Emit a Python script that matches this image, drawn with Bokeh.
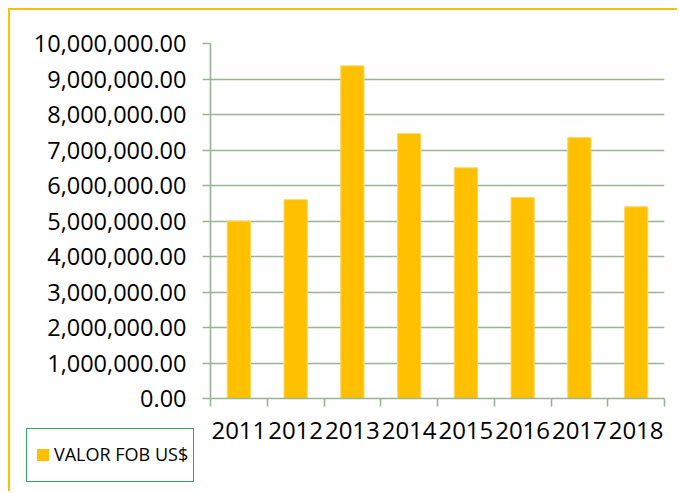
from bokeh.plotting import figure
from bokeh.layouts import column
from bokeh.models import (Range1d, FixedTicker, NumeralTickFormatter, Div,
                          ColumnDataSource)
from bokeh.embed import file_html
from bokeh.resources import INLINE

# ---- data ----
years = ["2011", "2012", "2013", "2014", "2015", "2016", "2017", "2018"]
valor_fob = [5.00e6, 5.60e6, 9.37e6, 7.46e6, 6.50e6, 5.66e6, 7.35e6, 5.40e6]
y_ticks = [0, 1e6, 2e6, 3e6, 4e6, 5e6, 6e6, 7e6, 8e6, 9e6, 10e6]
series_name = "VALOR FOB US$"

FONT = "Open Sans"
GRID = "#96B592"
GOLD = "#FFC000"
BAR_EDGE = "#FFD766"
LEGEND_BORDER = "#2EAA5C"

n = len(years)
centers = [i + 0.5 for i in range(n)]
boundaries = list(range(n + 1))
src = ColumnDataSource(dict(x=centers, top=valor_fob, year=years))

p = figure(width=669, height=483, output_backend="svg", toolbar_location=None,
           x_range=Range1d(0, n), y_range=Range1d(y_ticks[0], y_ticks[-1]),
           min_border_left=200, min_border_right=15, min_border_top=33,
           min_border_bottom=95)
p.styles = {"border-left": "2px solid " + GOLD, "border-top": "2px solid " + GOLD,
            "margin-left": "8px", "margin-top": "8px"}
p.outline_line_color = None
p.background_fill_color = "white"
p.border_fill_color = "white"

r = p.vbar(x="x", top="top", bottom=0, width=0.41, source=src,
           fill_color=GOLD, line_color=BAR_EDGE, line_width=1)

# grid
p.xgrid.grid_line_color = None
p.ygrid.ticker = FixedTicker(ticks=y_ticks)
p.ygrid.grid_line_color = GRID
p.ygrid.grid_line_width = 1.6

# y axis
ya = p.yaxis[0]
ya.ticker = FixedTicker(ticks=y_ticks)
ya.formatter = NumeralTickFormatter(format="0,0.00")
ya.axis_line_color = GRID
ya.axis_line_width = 1.6
ya.major_tick_line_color = GRID
ya.major_tick_line_width = 1.6
ya.major_tick_out = 8
ya.major_tick_in = 0
ya.minor_tick_line_color = None
ya.major_label_standoff = 16
ya.major_label_text_font = FONT
ya.major_label_text_font_size = "23.5px"
ya.major_label_text_color = "black"

# x axis
xa = p.xaxis[0]
xa.ticker = FixedTicker(ticks=centers, minor_ticks=boundaries)
xa.major_label_overrides = {c: y for c, y in zip(centers, years)}
xa.axis_line_color = GRID
xa.axis_line_width = 1.6
xa.major_tick_line_color = None
xa.major_tick_out = 8
xa.major_tick_in = 0
xa.minor_tick_line_color = GRID
xa.minor_tick_line_width = 1.6
xa.minor_tick_out = 8
xa.minor_tick_in = 0
xa.major_label_standoff = 15
xa.major_label_text_font = FONT
xa.major_label_text_font_size = "24px"
xa.major_label_text_color = "black"

# ---- legend box (lower-left corner, outside the plot frame) ----
legend_html = (
    '<div style="display:flex;align-items:center;box-sizing:border-box;'
    'width:168px;height:54px;border:1.5px solid ' + LEGEND_BORDER + ';'
    'padding-left:10px;background:white;font-family:\'Open Sans\';'
    'font-size:18px;color:black;white-space:nowrap;">'
    '<span style="display:inline-block;width:12px;height:12px;background:'
    + GOLD + ';margin-right:5px;"></span>' + series_name + '</div>'
)
legend_div = Div(text=legend_html, width=168, height=54,
                 styles={"margin-top": "-63px", "margin-left": "26px"})

layout = column(p, legend_div)
open("out.html", "w").write(file_html(layout, INLINE))
